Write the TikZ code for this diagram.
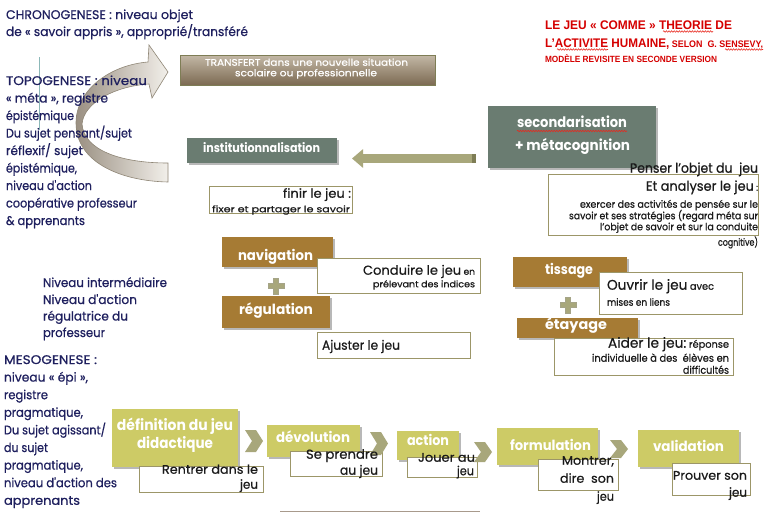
\documentclass[tikz,border=0pt]{standalone}
\usepackage{fontspec}
\usepackage{graphicx}
\setmainfont{Poppins}
\newfontfamily\medfont{Poppins}[FakeBold=0.6]
\newfontfamily\titlefont{Liberation Sans}
\usetikzlibrary{shadows,decorations.pathmorphing,arrows.meta}
\definecolor{navy}{HTML}{1E1F5E}
\definecolor{slate}{HTML}{6A7C71}
\definecolor{gold}{HTML}{A67B34}
\definecolor{lime}{HTML}{CDCB66}
\definecolor{olive}{HTML}{A8A77B}
\definecolor{olivedark}{HTML}{7E7D55}
\definecolor{frame}{HTML}{9C9668}
\definecolor{titred}{HTML}{D50000}
\definecolor{squigred}{HTML}{E8281E}
\definecolor{ink}{HTML}{1A1A1A}
\definecolor{taupe}{HTML}{A89A8C}
\definecolor{tealc}{HTML}{8CB8B8}
\definecolor{brtop}{HTML}{C3B8A6}
\definecolor{brbot}{HTML}{7C6A52}
\definecolor{arrdark}{HTML}{9A9082}
\definecolor{arrlight}{HTML}{F2EFEA}
\definecolor{arredge}{HTML}{8F8676}
\newcommand\fw[2]{\resizebox{#1pt}{\height}{#2}}
\newcommand\tl[7]{\node[#6, anchor=#2, inner sep=0pt, outer sep=0pt] (#1) at (#3,#4) {\fw{#5}{#7}};}
\newcommand\nl[5]{\node[navytxt, anchor=base west, inner sep=0pt, outer sep=0pt] (#1) at (#2,#3) {\fw{#4}{#5}};}
\newcommand\bx[6]{\node[#1, anchor=north west, inner sep=0pt, outer sep=0pt, minimum width={#4pt-#2pt}, minimum height={#5pt-#3pt}] (#6) at (#2,#3) {};}
\newcommand\chev[4]{\fill[olive] (#2,#3) -- ++(11,0) -- ++(7,#4/2) -- ++(-7,#4/2) -- ++(-11,0) -- ++(7,-#4/2) -- cycle;}
\newcommand\plussign[2]{\filldraw[olive, draw=olivedark!70, line width=0.4pt, shift={(#1,#2)}] (-2.6,-8) -- (2.6,-8) -- (2.6,-2.6) -- (8,-2.6) -- (8,2.6) -- (2.6,2.6) -- (2.6,8) -- (-2.6,8) -- (-2.6,2.6) -- (-8,2.6) -- (-8,-2.6) -- (-2.6,-2.6) -- cycle;}
\tikzset{
  navytxt/.style={text=navy, font=\medfont\fontsize{12.5}{14}\selectfont},
  wtxt/.style={text=white, font=\bfseries\fontsize{14}{16}\selectfont},
  btxt/.style={text=ink, font=\medfont\fontsize{12.5}{14}\selectfont},
  stxt/.style={text=ink, font=\medfont\fontsize{10}{11}\selectfont},
  ttxt/.style={text=titred, font=\titlefont\bfseries\fontsize{12.5}{14}\selectfont},
  shad/.style={drop shadow={shadow xshift=1.5pt, shadow yshift=-1.8pt, opacity=0.28, fill=black}},
  slatebox/.style={fill=slate, shad},
  goldbox/.style={fill=gold, shad},
  limebox/.style={fill=lime, shad},
  framebox/.style={draw=frame, line width=0.9pt, fill=white},
  transbox/.style={top color=brtop, bottom color=brbot, draw=olivedark, line width=0.6pt},
  squig/.style={draw=squigred, line width=0.55pt, decorate, decoration={snake, amplitude=0.8pt, segment length=2.6pt}},
  olivearrow/.style={draw=olive, line width=9pt, -{Triangle[width=18pt,length=11pt]}}
}
\begin{document}
\begin{tikzpicture}[x=1pt,y=-1pt]
\useasboundingbox (0,0) rectangle (774,512);
\fill[white] (0,0) rectangle (774,512);
% curved arrow
\shadedraw[left color=arrdark, right color=arrlight, draw=arredge, line width=0.6pt]
 (168,182) .. controls (120,181) and (76,162) .. (76,123)
 .. controls (76,90) and (110,65) .. (148,62)
 -- (149,45) -- (168,72) -- (152,98) -- (149,84)
 .. controls (116,86) and (84,102) .. (82,124)
 .. controls (84,150) and (120,163) .. (168,163) -- cycle;
\draw[tealc, line width=1pt] (39,57) -- (39,130);
% filled boxes
\bx{transbox}{180}{55}{435}{85}{transf}
\bx{slatebox}{187}{138}{337}{163}{inst}
\bx{slatebox}{488}{106}{656}{168}{sec}
\bx{goldbox}{222}{237}{333}{267}{nav}
\bx{goldbox}{222}{296}{330}{328}{reg}
\bx{goldbox}{513}{257}{627}{287}{tiss}
\bx{goldbox}{517}{318}{638}{338}{etay}
\bx{limebox}{112}{409}{238}{467}{def}
\bx{limebox}{267}{425}{360}{457}{devo}
\bx{limebox}{397}{431}{459}{460}{act}
\bx{limebox}{497}{428}{598}{465}{form}
\bx{limebox}{638}{430}{739}{467}{valid}
% outline boxes
\bx{framebox}{548}{174}{758}{235}{penbox}
\bx{framebox}{209}{186}{352}{213}{finbox}
\bx{framebox}{317}{258}{480}{293}{conbox}
\bx{framebox}{317}{332}{470}{358}{ajbox}
\bx{framebox}{599}{272}{742}{314}{ouvbox}
\bx{framebox}{554}{338}{733}{375}{aidbox}
\bx{framebox}{139}{466}{263}{492}{renbox}
\bx{framebox}{290}{451}{382}{476}{sebox}
\bx{framebox}{407}{457}{477}{477}{jobox}
\bx{framebox}{538}{459}{618}{490}{mobox}
\bx{framebox}{672}{463}{750}{495}{prbox}
% arrow secondarisation -> institutionnalisation
\coordinate (ay) at (0,158.5);
\draw[olivearrow, shorten <=12pt, shorten >=15pt] (sec.west |- ay) -- (inst.east |- ay);
\fill[olivedark] (472,154) rectangle (476,163);
% chevrons and plus signs
\chev{c1}{245}{430}{22}
\chev{c2}{370}{432}{23}
\chev{c3}{474}{442}{20}
\chev{c4}{610}{440}{18}
\plussign{276}{286}
\plussign{568}{305}
\draw[taupe, line width=1pt] (280,511.5) -- (480,511.5);
% title
\tl{ti1}{base west}{545}{29.5}{187}{ttxt}{LE JEU « COMME » THEORIE DE}
\tl{ti2}{base west}{545}{47}{218}{ttxt}{L’ACTIVITE HUMAINE,{\fontsize{9.5}{11}\selectfont{} SELON~ G. SENSEVY,}}
\tl{ti3}{base west}{545}{62}{172}{ttxt}{\fontsize{9}{10}\selectfont MODÈLE REVISITE EN SECONDE VERSION}
\draw[squig] (663,31.5) -- (713,31.5);
\draw[squig] (557,49.5) -- (608,49.5);
\draw[squig] (725,49.5) -- (763,49.5);
\draw[squig] (517,131) -- (627,131);
% navy texts
\nl{chr1}{6}{19}{187}{CHRONOGENESE : niveau objet}
\nl{chr2}{6}{36}{242}{de « savoir appris », approprié/transféré}
\nl{tp1}{6}{85}{141}{TOPOGENESE : niveau}
\nl{tp2}{6}{102.5}{102}{« méta », registre}
\nl{tp3}{6}{120}{68}{épistémique}
\nl{tp4}{6}{137.5}{126}{Du sujet pensant/sujet}
\nl{tp5}{6}{155}{77}{réflexif/ sujet}
\nl{tp6}{6}{172.5}{71}{épistémique,}
\nl{tp7}{6}{190}{86}{niveau d'action}
\nl{tp8}{6}{207.5}{131}{coopérative professeur}
\nl{tp9}{6}{225}{79}{\& apprenants}
\nl{mi1}{43}{287}{124}{Niveau intermédiaire}
\nl{mi2}{43}{304}{94}{Niveau d'action}
\nl{mi3}{43}{320.5}{85}{régulatrice du}
\nl{mi4}{43}{337}{62}{professeur}
\nl{ms1}{4}{364}{93}{MESOGENESE :}
\nl{ms2}{4}{381.6}{84}{niveau « épi »,}
\nl{ms3}{4}{399.2}{44}{registre}
\nl{ms4}{4}{416.8}{79}{pragmatique,}
\nl{ms5}{4}{434.4}{102}{Du sujet agissant/}
\nl{ms6}{4}{452}{44}{du sujet}
\nl{ms7}{4}{469.6}{79}{pragmatique,}
\nl{ms8}{4}{487.2}{113}{niveau d'action des}
\nl{ms9}{4}{504.8}{76}{apprenants}
% white texts
\tl{tr1}{mid}{306.5}{63}{203}{wtxt,font=\medfont\fontsize{9.5}{11}\selectfont}{TRANSFERT dans une nouvelle situation}
\tl{tr2}{mid}{306}{73.5}{142}{wtxt,font=\medfont\fontsize{9.5}{11}\selectfont}{scolaire ou professionnelle}
\tl{inst-t}{mid}{261.5}{149.5}{117}{wtxt,font=\bfseries\fontsize{12.5}{14}\selectfont}{institutionnalisation}
\tl{sec-t1}{mid}{572}{125}{110}{wtxt,font=\bfseries\fontsize{14.5}{16}\selectfont}{secondarisation}
\tl{sec-t2}{mid}{572.5}{148}{115}{wtxt,font=\bfseries\fontsize{14.5}{16}\selectfont}{+ métacognition}
\tl{nav-t}{mid}{275.5}{258}{75}{wtxt}{navigation}
\tl{reg-t}{mid}{276}{312}{74}{wtxt}{régulation}
\tl{tiss-t}{mid}{569}{272}{48}{wtxt}{tissage}
\tl{etay-t}{mid}{576}{327}{62}{wtxt}{étayage}
\tl{def-t1}{mid}{175}{428}{116}{wtxt,font=\bfseries\fontsize{15}{17}\selectfont}{définition du jeu}
\tl{def-t2}{mid}{175}{446}{76}{wtxt,font=\bfseries\fontsize{15}{17}\selectfont}{didactique}
\tl{devo-t}{mid}{313}{440}{74}{wtxt}{dévolution}
\tl{act-t}{mid}{428}{443}{42}{wtxt}{action}
\tl{form-t}{mid}{550.5}{448}{81}{wtxt}{formulation}
\tl{valid-t}{mid}{688.5}{449}{71}{wtxt}{validation}
% black texts
\tl{pe1}{mid east}{758}{170}{128}{btxt,font=\medfont\fontsize{13.5}{15}\selectfont}{Penser l’objet du~ jeu}
\tl{pe2}{mid east}{758}{188}{112}{btxt,font=\medfont\fontsize{13.5}{15}\selectfont}{Et analyser le jeu{\fontsize{9}{10}\selectfont\ :}}
\tl{pe3}{mid east}{758}{205}{178}{stxt}{exercer des activités de pensée sur le}
\tl{pe4}{mid east}{758}{216.5}{189}{stxt}{savoir et ses stratégies (regard méta sur}
\tl{pe5}{mid east}{758}{227.5}{158}{stxt}{l’objet de savoir et sur la conduite}
\tl{pe6}{mid east}{758}{243}{40}{stxt}{cognitive)}
\tl{fi1}{mid east}{351}{195}{68}{btxt}{finir le jeu :}
\tl{fi2}{mid east}{350}{209.5}{138}{stxt,font=\medfont\fontsize{9}{10}\selectfont}{fixer et partager le savoir}
\tl{co1}{mid east}{475}{272}{112}{btxt,font=\medfont\fontsize{13}{15}\selectfont}{Conduire le jeu{\fontsize{9}{10}\selectfont\ en}}
\tl{co2}{mid east}{475}{284.5}{102}{stxt,font=\medfont\fontsize{9}{10}\selectfont}{prélevant des indices}
\tl{aj}{mid west}{322}{347}{78}{btxt,font=\medfont\fontsize{13}{15}\selectfont}{Ajuster le jeu}
\tl{ou1}{mid west}{607}{287}{107}{btxt,font=\medfont\fontsize{14}{16}\selectfont}{Ouvrir le jeu{\fontsize{10}{11}\selectfont\ avec}}
\tl{ou2}{mid west}{607}{303}{63}{stxt}{mises en liens}
\tl{ai1}{mid east}{729}{345}{121}{btxt,font=\medfont\fontsize{14}{16}\selectfont}{Aider le jeu:{\fontsize{10}{11}\selectfont\ réponse}}
\tl{ai2}{mid east}{729}{359}{137}{stxt,font=\medfont\fontsize{10.5}{12}\selectfont}{individuelle à des~ élèves en}
\tl{ai3}{mid east}{729}{371}{46}{stxt,font=\medfont\fontsize{10.5}{12}\selectfont}{difficultés}
\tl{re1}{mid east}{258}{471}{96}{btxt}{Rentrer dans le}
\tl{re2}{mid east}{258}{486}{18}{btxt}{jeu}
\tl{se1}{mid east}{378}{456}{72}{btxt,font=\medfont\fontsize{13}{15}\selectfont}{Se prendre}
\tl{se2}{mid east}{378}{472}{38}{btxt,font=\medfont\fontsize{13}{15}\selectfont}{au jeu}
\tl{jo1}{mid east}{475}{459}{57}{btxt}{Jouer au}
\tl{jo2}{mid east}{474}{472.5}{17}{btxt}{jeu}
\tl{mo1}{mid east}{614}{462}{52}{btxt}{Montrer,}
\tl{mo2}{mid east}{614}{480}{54}{btxt}{dire~ son}
\tl{mo3}{mid east}{614}{498}{17}{btxt}{jeu}
\tl{pr1}{mid east}{747}{477}{74}{btxt}{Prouver son}
\tl{pr2}{mid east}{747}{494}{18}{btxt}{jeu}
\end{tikzpicture}
\end{document}
